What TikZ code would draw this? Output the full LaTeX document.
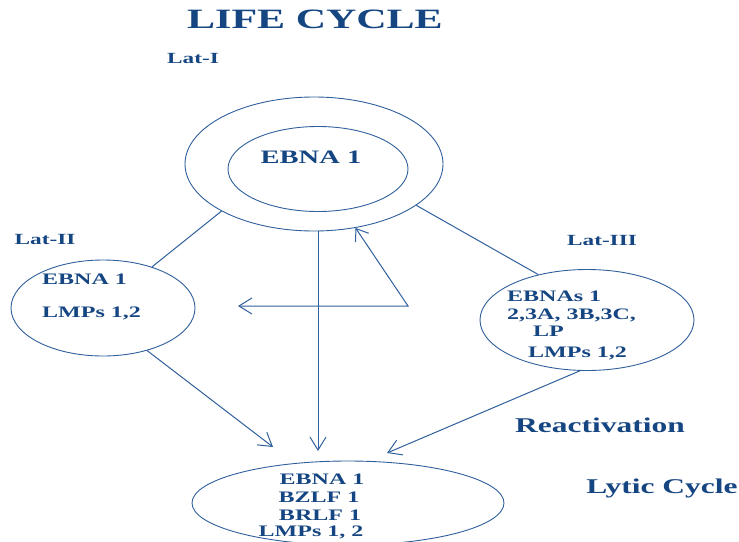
\documentclass[tikz,border=0pt]{standalone}
\usepackage{fontspec}
\setmainfont{Liberation Serif}[FakeStretch=1.5]
\usetikzlibrary{shapes.geometric,arrows.meta}
\definecolor{txt}{HTML}{164682}
\definecolor{ln}{HTML}{2F5F9C}
\newcommand\fs[1]{\fontsize{#1}{#1}\selectfont\bfseries}
\begin{document}
\begin{tikzpicture}[x=1pt,y=-1pt,
  lbl/.style={text=txt,inner sep=0pt,font=\fs{16}},
  ell/.style={draw=ln,line width=0.9pt,ellipse,inner sep=0pt},
  conn/.style={draw=ln,line width=1pt},
  arr/.style={conn,-{Straight Barb[length=13pt,width=16pt,line width=1pt]}}]
\useasboundingbox (0,0) rectangle (739,541);
% title and labels
\node[lbl,font=\fs{28}] (title) at (315,19) {LIFE CYCLE};
\node[lbl,font=\fs{15.5}] (lat1) at (193,58) {Lat-I};
\node[lbl,font=\fs{15.5}] (lat2) at (45,239) {Lat-II};
\node[lbl,font=\fs{15.5}] (lat3) at (602,240) {Lat-III};
\node[lbl,font=\fs{21}] (react) at (600,425) {Reactivation};
\node[lbl,font=\fs{21}] (lytic) at (662,488) {Lytic Cycle};
% ellipses
\node[ell,minimum width=258pt,minimum height=134pt] (outer) at (314,164) {};
\node[ell,minimum width=180pt,minimum height=85pt] (inner) at (318,169) {};
\node[lbl,font=\fs{19}] (t1) at (311,157) {EBNA 1};
\node[ell,minimum width=184pt,minimum height=96pt] (left) at (103,308) {};
\node[lbl,anchor=west] (l1) at (42,279) {EBNA 1};
\node[lbl,anchor=west] (l2) at (42,313) {LMPs 1,2};
\node[ell,minimum width=214pt,minimum height=101pt] (right) at (587,320) {};
\node[lbl,anchor=west] (r1) at (507,296) {EBNAs 1};
\node[lbl,anchor=west] (r2) at (507,315) {2,3A, 3B,3C,};
\node[lbl,anchor=west] (r3) at (533,331) {LP};
\node[lbl,anchor=west] (r4) at (528,353) {LMPs 1,2};
\node[ell,minimum width=312pt,minimum height=84pt] (bottom) at (348,503) {};
\node[lbl] (b1) at (322,479) {EBNA 1};
\node[lbl] (b2) at (319,497) {BZLF 1};
\node[lbl] (b3) at (320,515) {BRLF 1};
\node[lbl] (b4) at (311,532) {LMPs 1, 2};
% free ends
\coordinate (tl) at (273,447);
\coordinate (tm) at (318,451);
\coordinate (tr) at (387,453);
\coordinate (hl) at (238,306);
\coordinate (hc) at (408,306);
% connectors
\draw[conn] (outer.207) -- (left.40);
\draw[conn] (outer.338) -- (right.137);
\draw[arr] (left.316) -- (tl);
\draw[arr] (outer.south -| tm) -- (tm);
\draw[arr] (right.262) -- (tr);
\draw[conn,{Straight Barb[length=13pt,width=16pt,line width=1pt]}-{Straight Barb[length=11pt,width=16pt,line width=1pt]}] (hl) -- (hc) -- (outer.303);
\end{tikzpicture}
\end{document}
